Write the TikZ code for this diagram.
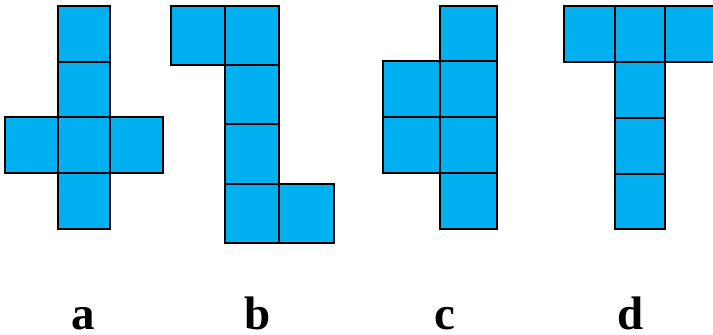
\documentclass[tikz,border=0pt]{standalone}
\usepackage{fontspec}
\setmainfont{Liberation Serif}
\definecolor{cellblue}{HTML}{00B0F0}
\begin{document}
\begin{tikzpicture}[x=1pt,y=-1pt,
  cell/.style={fill=cellblue,draw=black,line width=1.8pt},
  lab/.style={anchor=base,inner sep=0pt,font=\fontsize{47}{47}\selectfont\bfseries}]
\useasboundingbox (0,0) rectangle (713,335);
% a
\draw[cell] (57.7,5.7) rectangle (110.3,61.7);
\draw[cell] (57.7,61.7) rectangle (110.3,117.3);
\draw[cell] (5,117.3) rectangle (57.7,173);
\draw[cell] (57.7,117.3) rectangle (110.3,173);
\draw[cell] (110.3,117.3) rectangle (163,173);
\draw[cell] (57.7,173) rectangle (110.3,229);
% b
\draw[cell] (171.3,5.7) rectangle (225.3,64.7);
\draw[cell] (225.3,5.7) rectangle (279.3,64.7);
\draw[cell] (225.3,64.7) rectangle (279.3,124.3);
\draw[cell] (225.3,124.3) rectangle (279.3,183.7);
\draw[cell] (225.3,183.7) rectangle (279.3,243);
\draw[cell] (279.3,183.7) rectangle (333.7,243);
% c
\draw[cell] (440,5.7) rectangle (497.3,60.7);
\draw[cell] (383,60.7) rectangle (440,116.7);
\draw[cell] (440,60.7) rectangle (497.3,116.7);
\draw[cell] (383,116.7) rectangle (440,172.7);
\draw[cell] (440,116.7) rectangle (497.3,172.7);
\draw[cell] (440,172.7) rectangle (497.3,229);
% d
\draw[cell] (564.3,5.7) rectangle (615,61.7);
\draw[cell] (615,5.7) rectangle (664.7,61.7);
\draw[cell] (664.7,5.7) rectangle (715,61.7);
\draw[cell] (615,61.7) rectangle (664.7,117.7);
\draw[cell] (615,117.7) rectangle (664.7,173.7);
\draw[cell] (615,173.7) rectangle (664.7,229);
% labels
\node[lab] (la) at (83,329.5) {a};
\node[lab] (lb) at (257.5,329.5) {b};
\node[lab] (lc) at (445,329.5) {c};
\node[lab] (ld) at (631,329.5) {d};
\end{tikzpicture}
\end{document}
